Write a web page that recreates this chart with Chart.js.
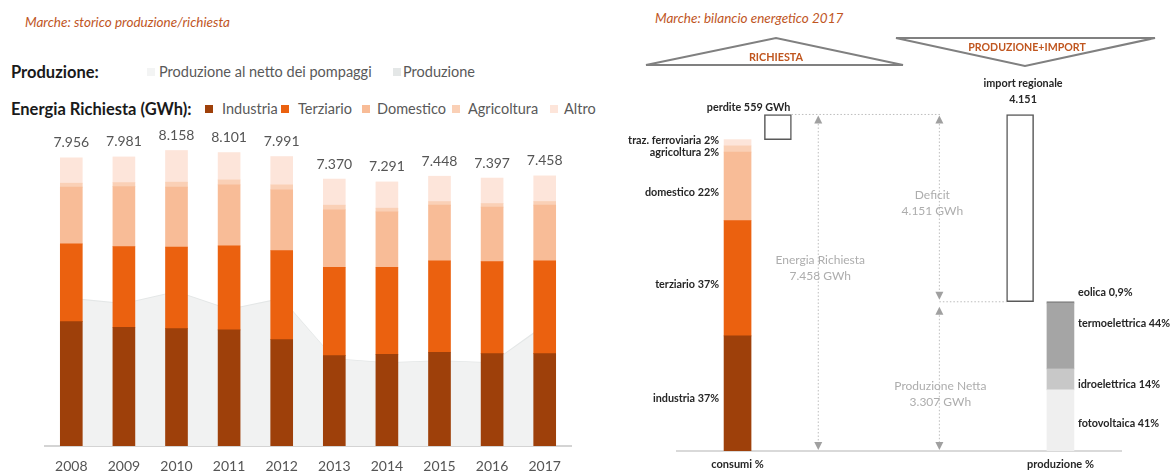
<!DOCTYPE html>
<html>
<head>
<meta charset="utf-8">
<script src="https://cdn.jsdelivr.net/npm/chart.js@4.4.0/dist/chart.umd.min.js"></script>
<style>
    body { margin: 0; background: #fff; font-family: Lato, sans-serif; }
    #page { position: relative; width: 1173px; height: 474px; overflow: hidden; }
    .abs { position: absolute; white-space: nowrap; }
    .title { font-style: italic; font-size: 13.5px; line-height: 16px; color: #c0561f; }
    .legtitle { font-weight: bold; font-size: 16.5px; line-height: 18px; color: #1a1a1a; }
    .legtext { font-size: 14.5px; line-height: 18px; color: #595959; }
    .sq { width: 8px; height: 8px; }
</style>
</head>
<body>
<div id="page">
    <div class="abs title" style="left:25px;top:14px">Marche: storico produzione/richiesta</div>
    <div class="abs title" style="left:655px;top:10px">Marche: bilancio energetico 2017</div>

    <div class="abs legtitle" style="left:11px;top:63px">Produzione:</div>
    <div class="abs legtitle" style="left:11px;top:100px">Energia Richiesta (GWh):</div>
    <div id="legend"></div>

    <div class="abs" style="left:0;top:0"><canvas id="storicoChart" width="600" height="474"></canvas></div>
    <div class="abs" style="left:600px;top:0"><canvas id="bilancioChart" width="573" height="474"></canvas></div>

    <svg class="abs" style="left:0;top:0" width="1173" height="80">
        <polygon points="646,65 776,38 903,65" fill="none" stroke="#808080" stroke-width="2"/>
        <polygon points="896,38 1155,38 1025,66" fill="none" stroke="#808080" stroke-width="2"/>
        <text x="776" y="61" text-anchor="middle" font-family="Lato" font-weight="bold" font-size="10.8" fill="#c0561f">RICHIESTA</text>
        <text x="1027" y="51" text-anchor="middle" font-family="Lato" font-weight="bold" font-size="10.6" fill="#c0561f">PRODUZIONE+IMPORT</text>
    </svg>
</div>

<script>
// ---- storico produzione/richiesta (GWh) ----
const years = ['2008', '2009', '2010', '2011', '2012', '2013', '2014', '2015', '2016', '2017'];
const industria   = [3434, 3279, 3240, 3204, 2936, 2494, 2533, 2588, 2550, 2550];
const terziario   = [2146, 2227, 2249, 2320, 2459, 2442, 2403, 2522, 2541, 2561];
const domestico   = [1566, 1657, 1657, 1685, 1677, 1583, 1528, 1539, 1503, 1539];
const agricoltura = [110, 110, 138, 138, 138, 130, 102, 100, 100, 100];
const altro       = [700, 708, 874, 754, 781, 721, 725, 699, 703, 708];
const totali      = [7956, 7981, 8158, 8101, 7991, 7370, 7291, 7448, 7397, 7458];
const produzione      = [4090, 3950, 4280, 3790, 4090, 2420, 2310, 2370, 2310, 3360];
const produzioneNetto = [4060, 3920, 4250, 3760, 4060, 2400, 2290, 2350, 2290, 3307];

// ---- bilancio energetico 2017 ----
const bilancioTicks = ['', 'consumi %', '', '', '', '', '', '', '', 'produzione %', ''];
const consumiLabels = ['industria 37%', 'terziario 37%', 'domestico 22%', 'agricoltura 2%', 'traz. ferroviaria 2%'];
const consumiGWh = [2553, 2553, 1518, 138, 138];
const produzioneLabels = ['fotovoltaica 41%', 'idroelettrica 14%', 'termoelettrica 44%', 'eolica 0,9%'];
const produzioneGWh = [1356, 463, 1458, 30];
const energiaRichiesta = 7458;
const perdite = 559;
const produzioneNetta = 3307;
const importRegionale = 4151;

const richiestaColors = ['#9e400a', '#eb610f', '#f8bc97', '#fad0b6', '#fde5da'];
const richiestaNames = ['Industria', 'Terziario', 'Domestico', 'Agricoltura', 'Altro'];
const areaColors = ['#f3f4f4', '#e4e7e7'];
const areaNames = ['Produzione al netto dei pompaggi', 'Produzione'];
const produzioneColors = ['#efefef', '#c8c8c8', '#a5a5a5', '#7f7f7f'];

Chart.defaults.font.family = 'Lato';

function fmt(v) {
    return String(v).replace(/\B(?=(\d{3})+(?!\d))/g, '.');
}

// Legend (html)
function buildLegend() {
    const legend = document.getElementById('legend');
    const rows = [
        { top: 63, names: areaNames, colors: areaColors, sq: [147, 393], tx: [159, 403] },
        { top: 100, names: richiestaNames, colors: richiestaColors, sq: [205, 281, 362, 452, 550], tx: [222, 298, 377, 468, 564] }
    ];
    rows.forEach(row => {
        row.names.forEach((name, i) => {
            const sq = document.createElement('div');
            sq.className = 'abs sq';
            sq.style.left = row.sq[i] + 'px';
            sq.style.top = (row.top + 5) + 'px';
            sq.style.background = row.colors[i];
            legend.appendChild(sq);
            const tx = document.createElement('div');
            tx.className = 'abs legtext';
            tx.style.left = row.tx[i] + 'px';
            tx.style.top = row.top + 'px';
            tx.textContent = name;
            legend.appendChild(tx);
        });
    });
}

// Totals above each stacked bar
const totaliPlugin = {
    id: 'totali',
    afterDatasetsDraw(chart) {
        const ctx = chart.ctx;
        const meta = chart.getDatasetMeta(4);
        ctx.save();
        ctx.font = '14px Lato';
        ctx.fillStyle = '#555';
        ctx.textAlign = 'center';
        ctx.textBaseline = 'middle';
        meta.data.forEach((el, i) => {
            ctx.fillText(fmt(totali[i]), el.x, el.y - 15);
        });
        ctx.restore();
    }
};

function initStorico() {
    const series = [industria, terziario, domestico, agricoltura, altro];
    const datasets = series.map((data, i) => ({
        type: 'bar',
        label: richiestaNames[i],
        data: data,
        backgroundColor: richiestaColors[i],
        barThickness: 22,
        order: 1
    }));
    datasets.push({
        type: 'line', label: areaNames[1], data: produzione, stack: 'prod',
        backgroundColor: areaColors[1], borderWidth: 0, pointRadius: 0, fill: 'origin', tension: 0, order: 3
    });
    datasets.push({
        type: 'line', label: areaNames[0], data: produzioneNetto, stack: 'netto',
        backgroundColor: '#f1f2f2', borderWidth: 0, pointRadius: 0, fill: 'origin', tension: 0, order: 2
    });

    new Chart(document.getElementById('storicoChart'), {
        data: { labels: years, datasets: datasets },
        options: {
            responsive: false,
            animation: false,
            layout: { padding: { left: 45, right: 29, top: 120, bottom: 0 } },
            plugins: { legend: { display: false }, tooltip: { enabled: false } },
            scales: {
                x: {
                    stacked: true,
                    grid: { display: false, drawTicks: false },
                    border: { color: '#d4d4d4', width: 2 },
                    ticks: { color: '#555', font: { size: 14 }, padding: 12 },
                    afterFit(scale) { scale.height = 28; }
                },
                y: { stacked: true, display: false, min: 0, max: 9000 }
            }
        },
        plugins: [totaliPlugin]
    });
}

// Arrow heads / dotted lines / labels for the balance chart
function arrowHead(ctx, x, y, dir) {
    ctx.beginPath();
    ctx.moveTo(x, y);
    ctx.lineTo(x - 4, y - dir * 8);
    ctx.lineTo(x + 4, y - dir * 8);
    ctx.closePath();
    ctx.fill();
}

const IDX_CONSUMI = 1, IDX_PERDITE = 2, IDX_ARROW1 = 3, IDX_ARROW2 = 6, IDX_IMPORT = 8, IDX_PROD = 9;

const bilancioPlugin = {
    id: 'bilancio',
    afterDatasetsDraw(chart) {
        const { ctx, scales: { x, y } } = chart;
        ctx.save();
        ctx.textBaseline = 'middle';

        // segment labels
        ctx.font = 'bold 10.8px Lato';
        ctx.fillStyle = '#262626';
        const consumiOffsets = [5, 6, 6, 4, -2];
        consumiLabels.forEach((lab, i) => {
            const el = chart.getDatasetMeta(i).data[IDX_CONSUMI];
            ctx.textAlign = 'right';
            ctx.fillText(lab, el.x - el.width / 2 - 5, (el.y + el.base) / 2 + consumiOffsets[i]);
        });
        const prodOffsets = [3, 5, -13, -10];
        produzioneLabels.forEach((lab, i) => {
            const el = chart.getDatasetMeta(consumiLabels.length + 2 + i).data[IDX_PROD];
            ctx.textAlign = 'left';
            ctx.fillText(lab, el.x + el.width / 2 + 4, (el.y + el.base) / 2 + prodOffsets[i]);
        });

        const perditeEl = chart.getDatasetMeta(consumiLabels.length).data[IDX_PERDITE];
        const importEl = chart.getDatasetMeta(consumiLabels.length + 1).data[IDX_IMPORT];
        ctx.textAlign = 'right';
        ctx.fillText('perdite ' + perdite + ' GWh', perditeEl.x + perditeEl.width / 2 - 1, perditeEl.y - 7);
        ctx.textAlign = 'center';
        ctx.fillText('import regionale', importEl.x + 3, importEl.y - 31);
        ctx.fillText(fmt(importRegionale), importEl.x + 3, importEl.y - 15);

        const yTop = y.getPixelForValue(energiaRichiesta);
        const yMid = y.getPixelForValue(produzioneNetta);
        const y0 = y.getPixelForValue(0);
        const x1 = x.getPixelForValue(IDX_ARROW1);
        const x2 = x.getPixelForValue(IDX_ARROW2);

        // dotted lines
        ctx.strokeStyle = '#bdbdbd';
        ctx.lineWidth = 1;
        ctx.setLineDash([1.5, 2]);
        ctx.beginPath();
        ctx.moveTo(perditeEl.x + perditeEl.width / 2, yTop);
        ctx.lineTo(x2 + 1, yTop);
        ctx.moveTo(x2, yMid);
        ctx.lineTo(importEl.x - importEl.width / 2, yMid);
        ctx.moveTo(x1, yTop + 6);
        ctx.lineTo(x1, y0 - 6);
        ctx.moveTo(x2, yTop + 6);
        ctx.lineTo(x2, yMid - 6);
        ctx.moveTo(x2, yMid + 10);
        ctx.lineTo(x2, y0 - 6);
        ctx.stroke();
        ctx.setLineDash([]);

        ctx.fillStyle = '#a0a0a0';
        arrowHead(ctx, x1, yTop + 1, -1);
        arrowHead(ctx, x1, y0 - 1, 1);
        arrowHead(ctx, x2, yTop + 1, -1);
        arrowHead(ctx, x2, yMid - 2, 1);
        arrowHead(ctx, x2, yMid + 5, -1);
        arrowHead(ctx, x2, y0 - 1, 1);

        // gray annotations
        ctx.font = '12px Lato';
        ctx.fillStyle = '#adadad';
        ctx.textAlign = 'center';
        const midR = (yTop + y0) / 2;
        ctx.fillText('Energia Richiesta', x1 + 2, midR - 23);
        ctx.fillText(fmt(energiaRichiesta) + ' GWh', x1 + 2, midR - 7);
        const midD = (yTop + yMid) / 2;
        ctx.fillText('Deficit', x2 - 7, midD - 13);
        ctx.fillText(fmt(importRegionale) + ' GWh', x2 - 7, midD + 3);
        const midP = (yMid + y0) / 2;
        ctx.fillText('Produzione Netta', x2 + 1, midP + 10);
        ctx.fillText(fmt(produzioneNetta) + ' GWh', x2 + 1, midP + 26);
        ctx.restore();
    }
};

function slot(idx, value) {
    const arr = bilancioTicks.map(() => null);
    arr[idx] = value;
    return arr;
}

function initBilancio() {
    const datasets = [];
    consumiGWh.forEach((v, i) => {
        datasets.push({ label: consumiLabels[i], data: slot(IDX_CONSUMI, v), backgroundColor: richiestaColors[i] });
    });
    datasets.push({
        label: 'perdite', data: slot(IDX_PERDITE, [energiaRichiesta - perdite, energiaRichiesta]),
        backgroundColor: '#fff', borderColor: '#595959', borderWidth: 1.5, borderSkipped: false
    });
    datasets.push({
        label: 'import regionale', data: slot(IDX_IMPORT, [produzioneNetta, produzioneNetta + importRegionale]),
        backgroundColor: '#fff', borderColor: '#595959', borderWidth: 1.5, borderSkipped: false
    });
    produzioneGWh.forEach((v, i) => {
        datasets.push({ label: produzioneLabels[i], data: slot(IDX_PROD, v), backgroundColor: produzioneColors[i] });
    });
    datasets.forEach(d => { d.barThickness = 27; });

    new Chart(document.getElementById('bilancioChart'), {
        type: 'bar',
        data: { labels: bilancioTicks, datasets: datasets },
        options: {
            responsive: false,
            animation: false,
            layout: { padding: { left: 77, right: 52, top: 90, bottom: 0 } },
            plugins: { legend: { display: false }, tooltip: { enabled: false } },
            scales: {
                x: {
                    stacked: true,
                    grid: { display: false, drawTicks: false },
                    border: { color: '#d9d9d9', width: 2 },
                    ticks: { color: '#262626', font: { size: 11, weight: 'bold' }, padding: 7, autoSkip: false, maxRotation: 0 },
                    afterFit(scale) { scale.height = 23; }
                },
                y: { stacked: true, display: false, min: 0, max: 8000 }
            }
        },
        plugins: [bilancioPlugin]
    });
}

buildLegend();
initStorico();
initBilancio();
</script>
</body>
</html>
